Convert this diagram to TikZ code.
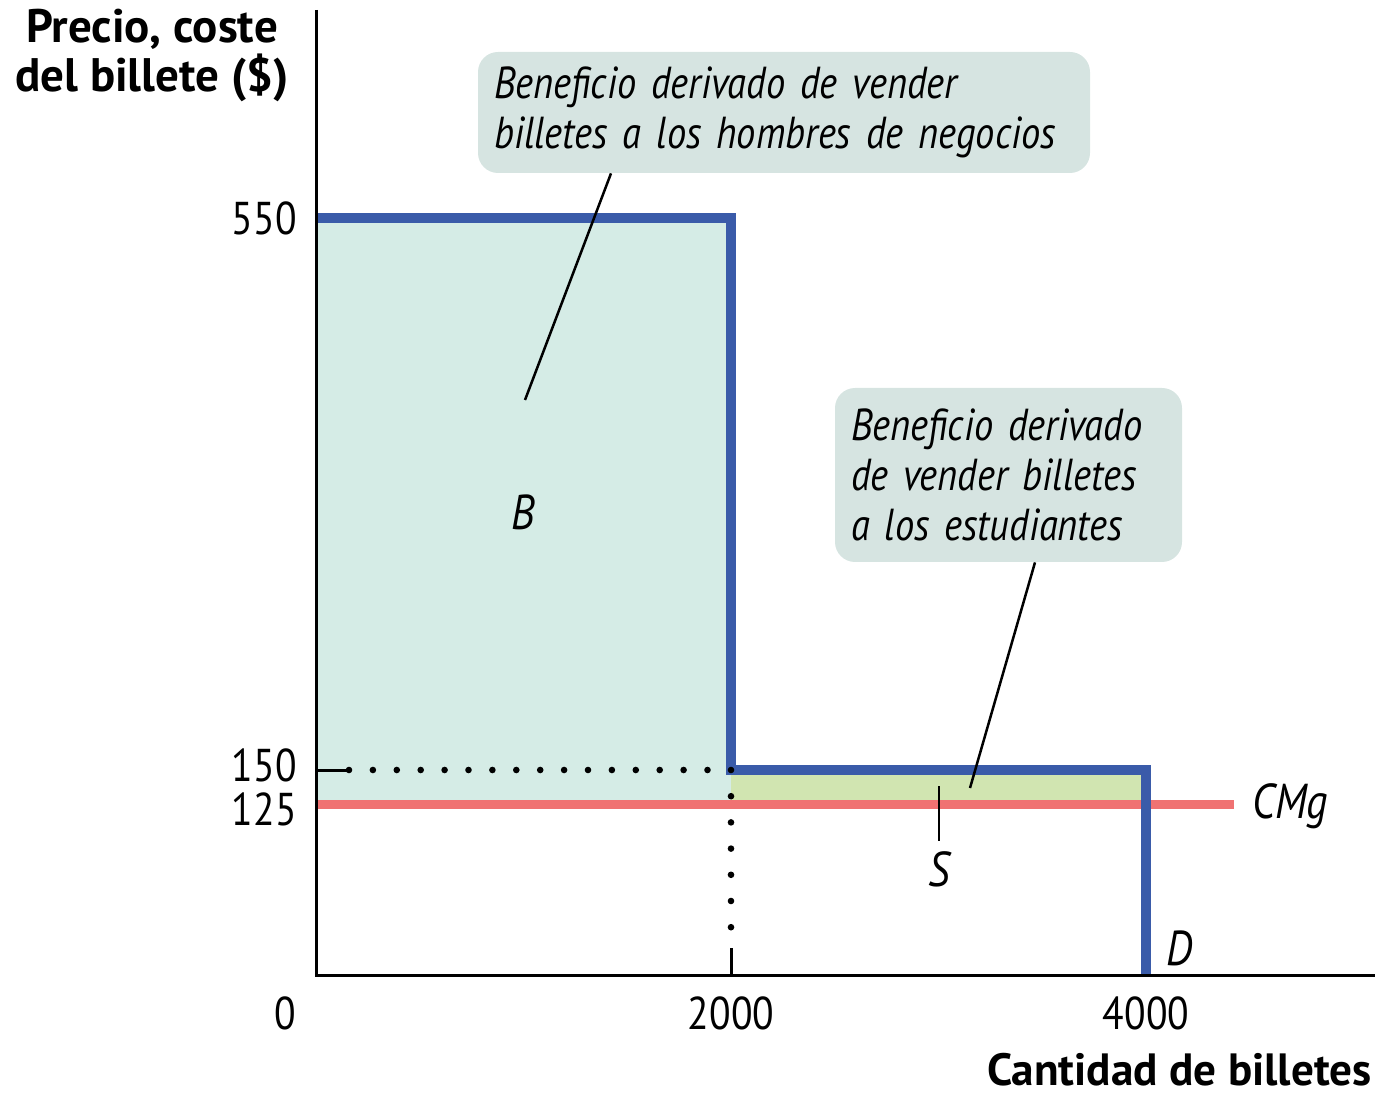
\documentclass[tikz,border=0pt]{standalone}
\usepackage{fontspec}
\setmainfont[FakeStretch=0.86]{PT Sans}
\newfontfamily\titlefont{PT Sans}
\definecolor{demandblue}{HTML}{3A5BA9}
\definecolor{costred}{HTML}{F07272}
\definecolor{bizfill}{HTML}{D5ECE6}
\definecolor{studfill}{HTML}{D1E5B1}
\definecolor{calloutfill}{HTML}{D6E4E1}
\tikzset{
  axistitle/.style={font=\titlefont\fontsize{23.5}{24.5}\selectfont\bfseries, align=center, inner sep=0pt},
  ticklabel/.style={font=\fontsize{23}{25}\selectfont, inner sep=0pt},
  callout/.style={fill=calloutfill, rounded corners=10pt, align=left,
    font=\fontsize{22.4}{25}\selectfont\itshape},
  curvelabel/.style={font=\fontsize{24.5}{26}\selectfont\itshape},
  leader/.style={line width=1.25pt},
  dotline/.style={line width=3.3pt, line cap=round}
}
\begin{document}
\begin{tikzpicture}[x=0.5pt, y=-0.5pt]
  \useasboundingbox (0,0) rectangle (1393,1096);
  % shaded areas
  \fill[bizfill] (316,218) rectangle (731,804);
  \fill[studfill] (731,770) rectangle (1146,804);
  % marginal cost
  \draw[costred, line width=4.5pt] (316,804) -- (1234,804);
  % demand
  \draw[demandblue, line width=5.3pt] (316,218) -- (731,218) -- (731,770) -- (1146,770) -- (1146,975);
  % axes
  \draw[line width=1.5pt] (316,10) -- (316,975) -- (1375,975);
  % dotted guides
  \draw[line width=1.5pt] (316,770) -- (347,770);
  \draw[dotline, dash pattern=on 0pt off 11.95pt] (349,770) -- (731,770);
  \draw[dotline, dash pattern=on 0pt off 13.1pt] (731,770) -- (731,928);
  \draw[line width=1.5pt] (731,948) -- (731,975);
  % axis titles
  \node[axistitle] (ytitle) at (152,55) {Precio, coste\\del billete (\$)};
  \node[axistitle, font=\titlefont\fontsize{22.6}{24}\selectfont\bfseries, anchor=east] (xtitle) at (1372,1070) {Cantidad de billetes};
  % tick labels
  \node[ticklabel, anchor=east] (t550) at (297,218) {550};
  \node[ticklabel, anchor=east] (t150) at (297,765) {150};
  \node[ticklabel, anchor=east] (t125) at (297,809) {125};
  \node[ticklabel] (t0) at (285,1013) {0};
  \node[ticklabel] (t2000) at (731,1013) {2000};
  \node[ticklabel] (t4000) at (1146,1013) {4000};
  % curve and area labels
  \node[curvelabel, anchor=west] (cmg) at (1245,806) {CMg};
  \node[curvelabel] (dlabel) at (1180,948) {D};
  \node[curvelabel] (blabel) at (523,512) {B};
  \node[curvelabel, inner sep=5pt] (slabel) at (939,869) {S};
  % callouts
  \node[callout, text width=290pt, inner xsep=8pt, minimum height=60.5pt] (bizbox) at (784,112.5)
    {Beneficio derivado de vender\\billetes a los hombres de negocios};
  \node[callout, text width=157.5pt, inner xsep=8pt, minimum height=87pt] (studbox) at (1008.5,475)
    {Beneficio derivado\\de vender billetes\\a los estudiantes};
  \coordinate (biztop) at (611,0);
  \coordinate (biztip) at (525,400);
  \coordinate (studtop) at (1035,0);
  \coordinate (studtip) at (970,788);
  \coordinate (stip) at (939,786);
  \draw[leader] (bizbox.south -| biztop) -- (biztip);
  \draw[leader] (studbox.south -| studtop) -- (studtip);
  \draw[leader] (slabel.north) -- (stip);
\end{tikzpicture}
\end{document}
